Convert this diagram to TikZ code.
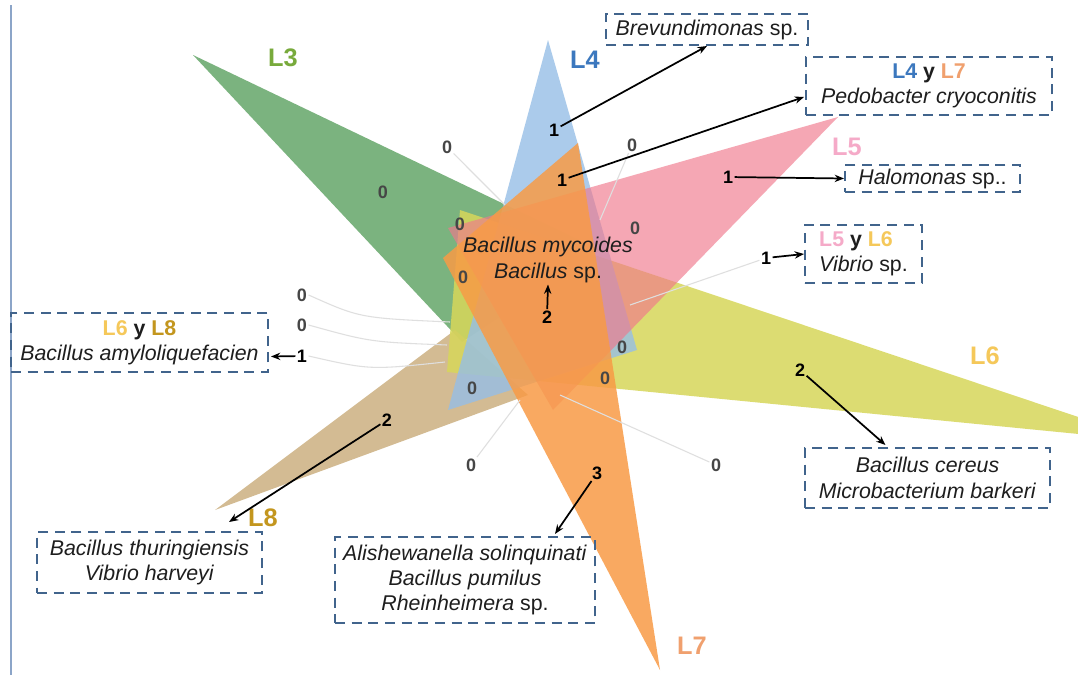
\documentclass[tikz,border=0pt]{standalone}
\usepackage{fontspec}
\setmainfont{Liberation Sans}
\usetikzlibrary{calc,arrows.meta}
\definecolor{cLiii}{RGB}{90,160,95}
\definecolor{cLiv}{RGB}{150,190,230}
\definecolor{cLv}{RGB}{240,120,140}
\definecolor{cLvi}{RGB}{215,215,90}
\definecolor{cLvii}{RGB}{248,155,70}
\definecolor{cLviii}{RGB}{200,170,120}
\definecolor{tLiii}{RGB}{120,170,60}
\definecolor{tLiv}{RGB}{60,120,190}
\definecolor{tLv}{RGB}{245,170,200}
\definecolor{tLvi}{RGB}{245,200,90}
\definecolor{tLvii}{RGB}{240,160,110}
\definecolor{tLviii}{RGB}{195,150,30}
\definecolor{boxline}{RGB}{65,100,140}
\definecolor{dark}{RGB}{30,30,30}
\definecolor{zerocol}{RGB}{70,70,70}
\definecolor{vline}{RGB}{140,165,200}
\begin{document}
\begin{tikzpicture}[x=0.75pt,y=-0.75pt,
  petal/.style={fill opacity=0.8},
  dbox/.style={draw=boxline, line width=1.5pt, dash pattern=on 7.5pt off 5pt, text=dark, align=center, inner sep=0pt, font=\fontsize{16}{19}\selectfont},
  num/.style={font=\fontsize{13.5}{13.5}\selectfont\bfseries, text=black, inner sep=1pt},
  zero/.style={font=\fontsize{13.5}{13.5}\selectfont\bfseries, text=zerocol, inner sep=1pt},
  lab/.style={font=\fontsize{19}{19}\selectfont\bfseries, inner sep=0pt},
  ctext/.style={font=\fontsize{16}{16}\selectfont, text=dark, inner sep=1pt},
  arr/.style={-{Stealth[length=7pt,width=5.5pt]}, line width=1.3pt, black},
  lead/.style={gray!25, line width=0.8pt}]
\useasboundingbox (0,0) rectangle (1078,675);
\fill[white] (0,0) rectangle (1078,675);
\draw[vline, line width=0.8pt] (11,5) -- (11,675);
\begin{scope}
\clip (0,0) rectangle (1078,675);
% gray leader lines
\coordinate (g1) at (505,205);
\coordinate (g2) at (600,220);
\coordinate (g7) at (450,322);
\coordinate (g8) at (447,345);
\coordinate (g9) at (445,362);
\coordinate (g12) at (520,400);
\coordinate (g13) at (560,395);
\coordinate (g4) at (630,305);
% petals
\fill[cLiii,petal] (193,55) -- (600,250) -- (462,342) -- cycle;
\fill[cLviii,petal] (215,510) -- (455,330) -- (528,395) -- cycle;
\fill[cLvi,fill opacity=0.85] (1150,441) -- (460,210) -- (447,372) -- cycle;
\fill[cLiv,petal] (548,40) -- (637,350) -- (448,410) -- cycle;
\fill[cLv,fill opacity=0.65] (838,117) -- (448,228) -- (553,410) -- cycle;
\fill[cLvii,fill opacity=0.85] (660,670) -- (578,143) -- (443,258) -- cycle;
\end{scope}
% petal labels
\node[lab,text=tLiii] (L3) at (283,58) {L3};
\node[lab,text=tLiv] (L4) at (585,60) {L4};
\node[lab,text=tLv] (L5) at (847,147) {L5};
\node[lab,text=tLvi] (L6) at (985,356) {L6};
\node[lab,text=tLvii] (L7) at (692,646) {L7};
\node[lab,text=tLviii] (L8) at (263,518) {L8};
% zeros
\node[zero] (z1) at (447,147) {0};
\node[zero] (z2) at (632,145) {0};
\node[zero] (z3) at (383,192) {0};
\node[zero] (z4) at (460,224) {0};
\node[zero] (z5) at (463,277) {0};
\node[zero] (z6) at (635,228) {0};
\node[zero] (z7) at (302,295) {0};
\node[zero] (z8) at (302,325) {0};
\node[zero] (z9) at (622,347) {0};
\node[zero] (z10) at (605,378) {0};
\node[zero] (z11) at (472,388) {0};
\node[zero] (z12) at (471,465) {0};
\node[zero] (z13) at (716,465) {0};
% numbers
\node[num] (n1) at (554,130) {1};
\node[num] (n2) at (562,180) {1};
\node[num] (n3) at (728,177) {1};
\node[num] (n4) at (766,258) {1};
\node[num] (n5) at (800,370) {2};
\node[num] (n6) at (597,473) {3};
\node[num] (n7) at (387,420) {2};
\node[num] (n8) at (302,356) {1};
\node[num] (c2) at (547,317) {2};
% leader lines
\draw[lead] (z1) -- (g1);
\draw[lead] (z2) -- (g2);
\draw[lead] (z7.east) .. controls (360,318) .. (g7);
\draw[lead] (z8.east) .. controls (370,342) .. (g8);
\draw[lead] (n8.east) .. controls (370,370) .. (g9);
\draw[lead] (z12) -- (g12);
\draw[lead] (z13) -- (g13);
\draw[lead] (n4) -- (g4);
% centre text
\node[ctext] (bm) at (548,247) {\textit{Bacillus mycoides}};
\node[ctext] (bsp) at (548,273) {\textit{Bacillus} sp.};
% boxes
\node[dbox, minimum width=151.5pt, minimum height=23.25pt] (brev) at (707,29.5) {\textit{Brevundimonas} sp.};
\node[dbox, minimum width=184.5pt, minimum height=43.5pt] (pedo) at (929,86) {{\bfseries\color{tLiv}L4 \color{dark}y \color{tLvii}L7}\\\textit{Pedobacter cryoconitis}};
\node[dbox, minimum width=131.25pt, minimum height=20.25pt] (halo) at (932.5,178.5) {\textit{Halomonas} sp..};
\node[dbox, minimum width=87.75pt, minimum height=43.5pt, align=left] (vib) at (863.5,254) {{\bfseries\color{tLv}L5 \color{dark}y \color{tLvi}L6}\\\textit{Vibrio} sp.};
\node[dbox, minimum width=183.75pt, minimum height=45pt] (cer) at (927.5,478) {\textit{Bacillus cereus}\\\textit{Microbacterium barkeri}};
\node[dbox, minimum width=195pt, minimum height=64.5pt] (ali) at (465,580) {\textit{Alishewanella solinquinati}\\\textit{Bacillus pumilus}\\\textit{Rheinheimera} sp.};
\node[dbox, minimum width=168.75pt, minimum height=45.75pt] (thu) at (149.5,562.5) {\textit{Bacillus thuringiensis}\\\textit{Vibrio harveyi}};
\node[dbox, minimum width=192.75pt, minimum height=44.25pt] (amy) at (139.5,342.5) {{\bfseries\color{tLvi}L6 \color{dark}y \color{tLviii}L8}\\\textit{Bacillus amyloliquefacien}};
% arrows
\draw[arr] (n1) -- (brev.south);
\draw[arr] (n2) -- ($(pedo.west)+(-1,11)$);
\draw[arr] (n3) -- (halo.west);
\draw[arr] (n4) -- (vib.west);
\draw[arr] (n5) -- ($(cer.north)+(-42,-2)$);
\draw[arr] (n6) -- ($(ali.north)+(90,-2)$);
\draw[arr] (n7) -- ($(thu.north east)+(-34,-9)$);
\draw[arr] (n8) -- ($(amy.east)+(2,14)$);
\draw[arr] (c2) -- (bsp.south);
\end{tikzpicture}
\end{document}
